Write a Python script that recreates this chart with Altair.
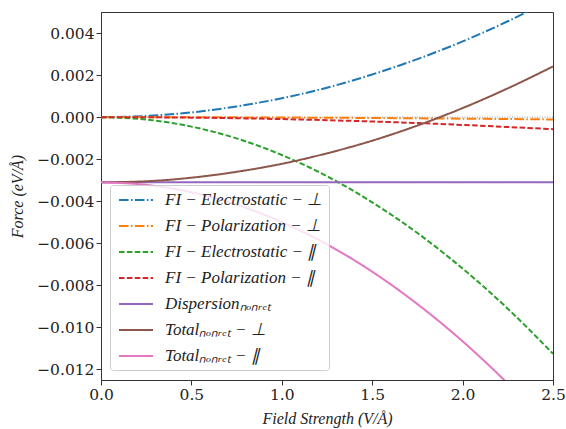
import altair as alt
import pandas as pd

field = [0.0, 0.25, 0.5, 0.75, 1.0, 1.25, 1.5, 1.75, 2.0, 2.25, 2.5]

fi_elec_perp = [0.0, 0.000056, 0.000225, 0.00051, 0.0009, 0.0014, 0.00203, 0.00276, 0.0036, 0.00456, 0.00563]
fi_pol_perp = [0.0, -0.000001, -0.000004, -0.00001, -0.000018, -0.000028, -0.00004, -0.000055, -0.000072, -0.00009, -0.00011]
fi_elec_par = [0.0, -0.000113, -0.00045, -0.00101, -0.0018, -0.00281, -0.00405, -0.00551, -0.0072, -0.00911, -0.01125]
fi_pol_par = [0.0, -0.000006, -0.000023, -0.000052, -0.000092, -0.000144, -0.000207, -0.00028, -0.00037, -0.00047, -0.00057]
dispersion = [-0.0031] * 11
total_perp = [-0.0031, -0.00305, -0.00288, -0.0026, -0.00222, -0.00172, -0.00112, -0.0004, 0.00043, 0.00137, 0.00241]
total_par = [-0.0031, -0.00322, -0.00357, -0.00416, -0.00499, -0.00605, -0.00735, -0.00889, -0.01066, -0.01267, -0.01491]

names = [
    "FI − Electrostatic − ⊥",
    "FI − Polarization − ⊥",
    "FI − Electrostatic − ∥",
    "FI − Polarization − ∥",
    "Dispersionₙₒₙᵣₑₜ",
    "Totalₙₒₙᵣₑₜ − ⊥",
    "Totalₙₒₙᵣₑₜ − ∥",
]
series = [fi_elec_perp, fi_pol_perp, fi_elec_par, fi_pol_par, dispersion, total_perp, total_par]
colors = ["#1f77b4", "#ff7f0e", "#2ca02c", "#d62728", "#9467bd", "#8c564b", "#e377c2"]
dashdot = [9.6, 2.4, 1.5, 2.4]
dashed = [5.5, 2.4]
dashes = [dashdot, dashdot, dashed, dashed, [1, 0], [1, 0], [1, 0]]

rows = []
for n, vals in zip(names, series):
    for x, y in zip(field, vals):
        rows.append({"x": x, "y": y, "s": n})
df = pd.DataFrame(rows)

xscale = alt.Scale(domain=[0, 2.5], nice=False, zero=False)
yscale = alt.Scale(domain=[-0.0125, 0.005], nice=False, zero=False)

zero = alt.Chart(pd.DataFrame({"y": [0.0]})).mark_rule(
    color="#999999", strokeDash=[1, 1.5], strokeWidth=1
).encode(y=alt.Y("y:Q", scale=yscale))

lines = alt.Chart(df).mark_line(strokeWidth=2, clip=True, interpolate="monotone").encode(
    x=alt.X("x:Q", scale=xscale, title="Field Strength (V/Å)",
            axis=alt.Axis(values=[0, 0.5, 1.0, 1.5, 2.0, 2.5], format=".1f", labelFlush=False)),
    y=alt.Y("y:Q", scale=yscale, title="Force (eV/Å)",
            axis=alt.Axis(values=[0.004, 0.002, 0.0, -0.002, -0.004, -0.006, -0.008, -0.010, -0.012],
                          format=".3f", labelFlush=False)),
    color=alt.Color("s:N", scale=alt.Scale(domain=names, range=colors), sort=names, title=None),
    strokeDash=alt.StrokeDash("s:N", scale=alt.Scale(domain=names, range=dashes), sort=names, title=None),
    order=alt.Order("x:Q"),
)

chart = alt.layer(zero, lines).properties(
    width=452, height=368,
    autosize=alt.AutoSizeParams(type="none"),
    padding={"left": 101, "top": 12, "right": 13, "bottom": 49},
).configure_view(
    stroke="#333333", strokeWidth=1
).configure_axis(
    grid=False,
    domainColor="#333333",
    tickColor="#333333",
    tickSize=5,
    labelFont="DejaVu Serif",
    labelFontSize=15.5,
    labelColor="#222222",
    titleFont="Liberation Serif",
    titleFontStyle="italic",
    titleFontWeight="normal",
    titleFontSize=16,
    titleColor="#222222",
).configure_axisY(
    titlePadding=11,
).configure_axisX(
    titlePadding=8,
).configure_legend(
    orient="none",
    legendX=9,
    legendY=173,
    labelFont="Liberation Serif",
    labelFontStyle="italic",
    labelFontSize=17,
    labelColor="#222222",
    labelOffset=31,
    symbolType="M-0.75,0H3.5",
    symbolSize=256,
    symbolStrokeWidth=2,
    rowPadding=9,
    padding=6,
    fillColor="rgba(255,255,255,0.8)",
    strokeColor="#cccccc",
    cornerRadius=3,
    labelLimit=300,
)

chart.save("out.html", embed_options={"renderer": "svg", "actions": False})
